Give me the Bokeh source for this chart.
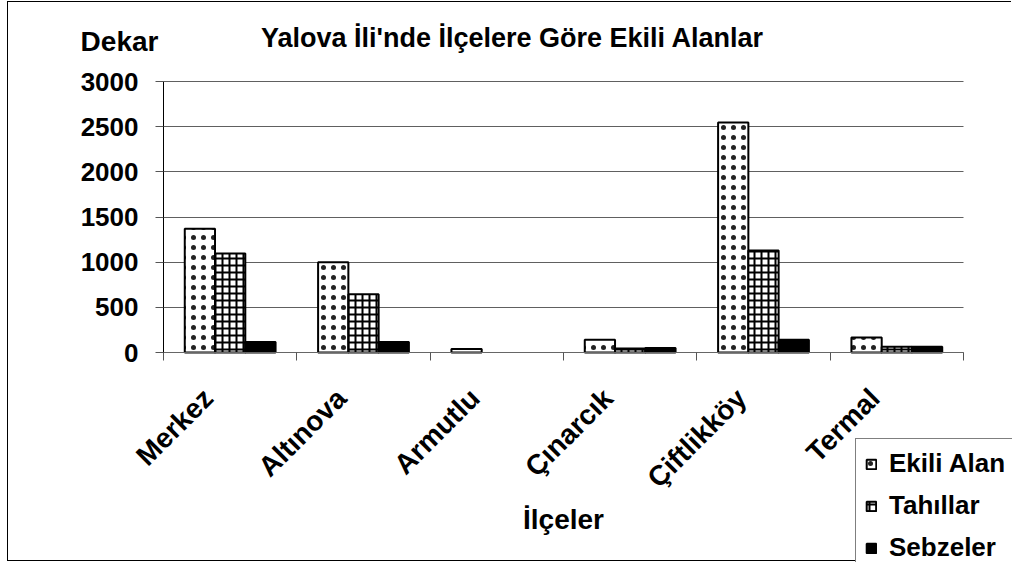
from math import pi
from bokeh.plotting import figure
from bokeh.models import (Range1d, FixedTicker, Label, Legend, LegendItem,
                          ColumnDataSource, LinearAxis, Grid)
from bokeh.transform import dodge
from bokeh.embed import file_html
from bokeh.resources import INLINE

# ---- data ----
categories = ["Merkez", "Altınova", "Armutlu", "Çınarcık", "Çiftlikköy", "Termal"]
ekili_alan = [1370, 1000, 40, 140, 2545, 165]
tahillar = [1095, 645, 0, 45, 1130, 65]
sebzeler = [115, 115, 0, 50, 140, 65]
series_names = ["Ekili Alan", "Tahıllar", "Sebzeler"]
y_ticks = [0, 500, 1000, 1500, 2000, 2500, 3000]
title_text = "Yalova İli'nde İlçelere Göre Ekili Alanlar"
y_label = "Dekar"
x_label = "İlçeler"

FONT = "Liberation Sans"
FS = "26px"

# ---- layout (pixels) ----
W, H = 1004, 560            # canvas size
OX, OY = 8, 2               # canvas origin on the page
PL, PR, PT, PB = 163, 963, 81, 352   # plot area edges on the page
ncat = len(categories)
ymax = y_ticks[-1]
kx = (PR - PL) / ncat
ky = (PB - PT) / ymax
x_range = Range1d((OX - PL) / kx, (OX + W - PL) / kx)
y_range = Range1d((PB - (OY + H)) / ky, (PB - OY) / ky)

xpos = [i + 0.5 for i in range(ncat)]
label_pos = [x - 22 / kx for x in xpos]


def outline(vals):
    # no outline for empty (zero) bars
    return [2 if v > 0 else 0 for v in vals]


src = ColumnDataSource(dict(x=xpos, ekili=ekili_alan, tahil=tahillar, sebze=sebzeler,
                            lw1=outline(ekili_alan), lw2=outline(tahillar),
                            lw3=outline(sebzeler)))

p = figure(width=W, height=H, x_range=x_range, y_range=y_range,
           output_backend="svg", toolbar_location=None, title=None,
           x_axis_location=None, y_axis_location=None,
           min_border_left=0, min_border_right=0,
           min_border_top=0, min_border_bottom=0)
p.styles = {"border-left": "1px solid black", "border-top": "1px solid black",
            "border-bottom": "1px solid black",
            "margin-left": "7px", "margin-top": "1px"}
p.outline_line_color = None
p.background_fill_color = "white"
p.border_fill_color = "white"
p.grid.visible = False

# grid
yg = Grid(dimension=1, ticker=FixedTicker(ticks=y_ticks), grid_line_color="#606060",
          grid_line_width=1, bounds=(0, ymax), cross_bounds=(0, ncat))
p.add_layout(yg)

w = 0.227
r1 = p.vbar(x=dodge("x", -w), top="ekili", width=w, source=src,
            fill_color="white", line_color="black", line_width="lw1",
            hatch_pattern="dot", hatch_color="#222222", hatch_scale=10, hatch_weight=0.25)
r2 = p.vbar(x=dodge("x", 0), top="tahil", width=w, source=src,
            fill_color="white", line_color="black", line_width="lw2",
            hatch_pattern="cross", hatch_color="black", hatch_scale=7, hatch_weight=2)
r3 = p.vbar(x=dodge("x", w), top="sebze", width=w, source=src,
            fill_color="black", line_color="black", line_width="lw3")

# axes at fixed locations
xa = LinearAxis(fixed_location=0, bounds=(0, ncat))
xa.ticker = FixedTicker(ticks=label_pos, minor_ticks=list(range(ncat + 1)))
xa.major_label_overrides = {x: c for x, c in zip(label_pos, categories)}
xa.major_label_orientation = pi / 4
xa.major_tick_line_color = None
xa.major_tick_out = 0
xa.major_tick_in = 0
xa.minor_tick_line_color = "#555555"
xa.minor_tick_out = 8
xa.minor_tick_in = 0
xa.major_label_standoff = 33
xa.axis_line_color = "#666666"
xa.major_label_text_font = FONT
xa.major_label_text_font_style = "bold"
xa.major_label_text_font_size = "28px"
xa.major_label_text_color = "black"
p.add_layout(xa, "below")

ya = LinearAxis(fixed_location=0, bounds=(0, ymax))
ya.ticker = FixedTicker(ticks=y_ticks, minor_ticks=[])
ya.major_tick_out = 8
ya.major_tick_in = 0
ya.major_label_standoff = 17
ya.axis_line_color = "black"
ya.major_tick_line_color = "#555555"
ya.major_label_text_font = FONT
ya.major_label_text_font_style = "bold"
ya.major_label_text_font_size = FS
ya.major_label_text_color = "black"
p.add_layout(ya, "left")

# texts (positions in page pixels, converted to canvas coordinates)
def lab(txt, px, py, size=FS):
    return Label(x=px - OX, y=(OY + H) - py, x_units="screen", y_units="screen",
                 text=txt, text_align="center", text_baseline="middle",
                 text_font=FONT, text_font_style="bold", text_font_size=size,
                 text_color="black")

p.add_layout(lab(title_text, 512, 37, "27px"))
p.add_layout(lab(y_label, 119, 41, "28px"))
p.add_layout(lab(x_label, 563, 519, "28px"))

legend = Legend(items=[LegendItem(label=series_names[0], renderers=[r1]),
                       LegendItem(label=series_names[1], renderers=[r2]),
                       LegendItem(label=series_names[2], renderers=[r3])],
                location=(855 - OX, (OY + H) - 573))
legend.border_line_color = "black"
legend.border_line_width = 1
legend.background_fill_color = "white"
legend.background_fill_alpha = 1
legend.label_text_font = FONT
legend.label_text_font_style = "bold"
legend.label_text_font_size = FS
legend.label_text_color = "black"
legend.label_height = 30
legend.glyph_width = 12
legend.glyph_height = 12
legend.label_standoff = 12
legend.spacing = 11
legend.padding = 9
legend.margin = 0
p.add_layout(legend)

open("out.html", "w").write(file_html(p, INLINE))
